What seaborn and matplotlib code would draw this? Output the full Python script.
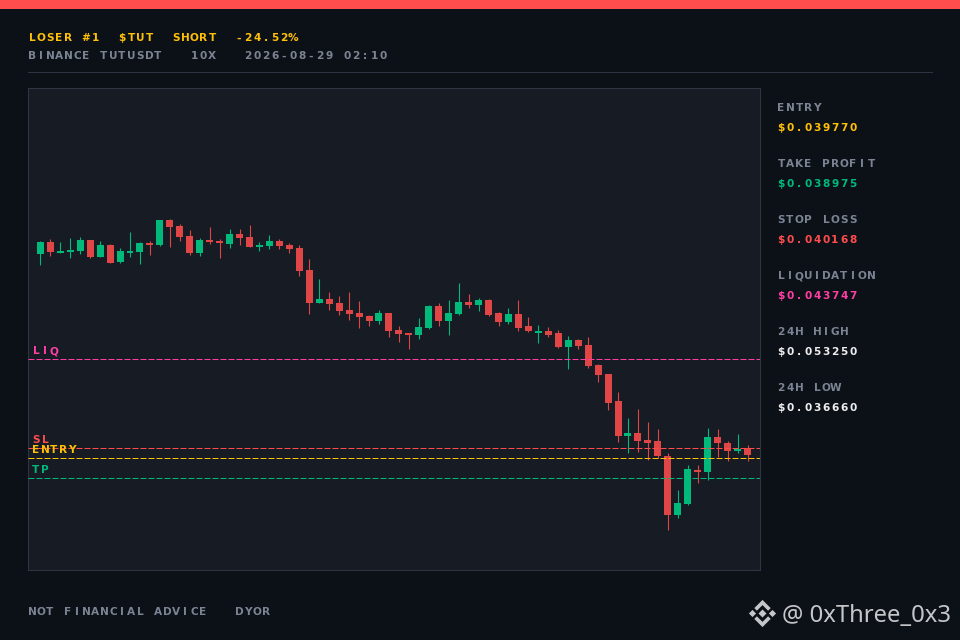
import numpy as np
import pandas as pd
import seaborn as sns
import matplotlib
matplotlib.use("Agg")
import matplotlib.pyplot as plt
from matplotlib.patches import Polygon, Rectangle
from matplotlib.text import Text
from matplotlib.transforms import Bbox

# candles, price
opens = [0.047979, 0.048460, 0.048019, 0.048059, 0.048099, 0.048540, 0.047858, 0.048339, 0.047658, 0.048019, 0.048059, 0.048420,
         0.048339, 0.049342, 0.049101, 0.048700, 0.048019, 0.048540, 0.048500, 0.048380, 0.048781, 0.048660, 0.048259, 0.048299,
         0.048500, 0.048339, 0.048219, 0.047337, 0.046014, 0.046174, 0.046014, 0.045733, 0.045613, 0.045492, 0.045292, 0.045613,
         0.044931, 0.044811, 0.044730, 0.045011, 0.045893, 0.045292, 0.045573, 0.046054, 0.045933, 0.046134, 0.045613, 0.045252,
         0.045573, 0.045091, 0.044811, 0.044891, 0.044811, 0.044249, 0.044530, 0.044329, 0.043527, 0.043167, 0.042084, 0.040680,
         0.040801, 0.040520, 0.040480, 0.039878, 0.037512, 0.037954, 0.039317, 0.039237, 0.040640, 0.040400, 0.040079, 0.040199]
closes = [0.048460, 0.048059, 0.048099, 0.048139, 0.048540, 0.047858, 0.048339, 0.047618, 0.048099, 0.048099, 0.048420, 0.048339,
          0.049342, 0.049061, 0.048660, 0.048019, 0.048540, 0.048460, 0.048420, 0.048781, 0.048620, 0.048259, 0.048339, 0.048500,
          0.048299, 0.048179, 0.047297, 0.046014, 0.046174, 0.045974, 0.045693, 0.045573, 0.045452, 0.045292, 0.045613, 0.044891,
          0.044771, 0.044730, 0.045051, 0.045893, 0.045292, 0.045613, 0.046054, 0.045933, 0.046134, 0.045532, 0.045252, 0.045573,
          0.045011, 0.044891, 0.044891, 0.044730, 0.044249, 0.044530, 0.044289, 0.043487, 0.043126, 0.042004, 0.040680, 0.040801,
          0.040480, 0.040400, 0.039878, 0.037512, 0.037994, 0.039357, 0.039237, 0.040640, 0.040400, 0.040079, 0.040159, 0.039918]
highs = [0.048500, 0.048580, 0.048460, 0.048620, 0.048660, 0.048540, 0.048500, 0.048380, 0.048219, 0.048861, 0.048460, 0.048500,
         0.049342, 0.049382, 0.049182, 0.048941, 0.048620, 0.049061, 0.048580, 0.048981, 0.048981, 0.049141, 0.048460, 0.048740,
         0.048580, 0.048420, 0.048339, 0.047778, 0.046976, 0.046455, 0.046294, 0.046455, 0.046094, 0.045532, 0.045733, 0.045613,
         0.045091, 0.044811, 0.045412, 0.045933, 0.046014, 0.046134, 0.046816, 0.046375, 0.046214, 0.046174, 0.045653, 0.045813,
         0.046134, 0.045452, 0.045131, 0.045051, 0.044931, 0.044690, 0.044570, 0.044650, 0.043568, 0.043167, 0.042445, 0.041402,
         0.041763, 0.041242, 0.040961, 0.039999, 0.038515, 0.039517, 0.039517, 0.041001, 0.040961, 0.040480, 0.040761, 0.040320]
lows = [0.047537, 0.047898, 0.048019, 0.047818, 0.047979, 0.047818, 0.047858, 0.047618, 0.047618, 0.047858, 0.047578, 0.047938,
        0.048299, 0.048259, 0.048500, 0.047938, 0.047898, 0.048380, 0.047818, 0.048219, 0.048339, 0.048259, 0.048099, 0.048179,
        0.048179, 0.048019, 0.047096, 0.045573, 0.046014, 0.045733, 0.045532, 0.045332, 0.045011, 0.045091, 0.045172, 0.044650,
        0.044450, 0.044169, 0.044570, 0.044971, 0.045091, 0.044730, 0.045532, 0.045813, 0.045693, 0.045492, 0.045091, 0.045172,
        0.044891, 0.044851, 0.044410, 0.044650, 0.044209, 0.043367, 0.044169, 0.043407, 0.042846, 0.041723, 0.040440, 0.039999,
        0.040039, 0.039718, 0.039798, 0.036911, 0.037392, 0.037913, 0.038796, 0.038916, 0.039838, 0.039678, 0.039999, 0.039678]

# price levels on the chart
level_names = ["LIQ", "SL", "ENTRY", "TP"]
level_prices = [0.043747, 0.040168, 0.039770, 0.038975]

# right hand panel
panel_labels = ["ENTRY", "TAKE PROFIT", "STOP LOSS", "LIQUIDATION", "24H HIGH", "24H LOW"]
panel_values = ["$0.039770", "$0.038975", "$0.040168", "$0.043747", "$0.053250", "$0.036660"]

title_line = "LOSER #1  $TUT  SHORT  -24.52%"
info_line = "BINANCE TUTUSDT   10X   2026-08-29 02:10"
footer_line = "NOT FINANCIAL ADVICE   DYOR"

BG = "#0c1017"
PANEL = "#161b24"
BORDER = "#2e3542"
GREY = "#7c8494"
GOLD = "#ffc107"
GREEN = "#00b97b"
RED = "#e04646"
SL_RED = "#ff4d4d"
PINK = "#ff3fa4"
WHITE = "#eeeeee"
W, H = 960, 640
STEP = 9  # px per character, the source font is tracked


class TrackedText(Text):
    # one string, drawn with a fixed advance per character
    def __init__(self, x, y, text, **kwargs):
        super().__init__(x, y, text, ha="left", va="baseline", parse_math=False, **kwargs)

    def draw(self, renderer):
        full = self.get_text()
        x0 = self.get_position()[0]
        self.set_ha("center")
        for i, ch in enumerate(full):
            if ch != " ":
                self.set_text(ch)
                self.set_x(x0 + (4 + i * STEP) / W)
                super().draw(renderer)
        self.set_ha("left")
        self.set_text(full)
        self.set_x(x0)

    def get_window_extent(self, renderer=None, dpi=None):
        x0, y0 = self.get_transform().transform(self.get_position())
        return Bbox([[x0, y0 - 1], [x0 + STEP * len(self.get_text()), y0 + 8]])


def pixel_text(fig, left, mid, text, color):
    t = TrackedText(left / W, 1 - (mid + 3.8) / H, text, color=color, family="DejaVu Sans",
                    weight="bold", fontsize=7.6, transform=fig.transFigure, zorder=10)
    fig.add_artist(t)


sns.set_theme(style="dark", rc={"axes.facecolor": PANEL, "figure.facecolor": BG})

df = pd.DataFrame({"i": np.arange(len(opens)), "open": opens, "close": closes, "high": highs, "low": lows})
df["bottom"] = df[["open", "close"]].min(axis=1)
df["height"] = (df["close"] - df["open"]).abs()
df["up"] = df["close"] > df["open"]

fig = plt.figure(figsize=(W / 100, H / 100), dpi=100, facecolor=BG)
ax = fig.add_axes([28 / W, 1 - 570 / H, 732 / W, 482 / H])

for up, color in [(True, GREEN), (False, RED)]:
    part = df[df["up"] == up]
    ax.vlines(part["i"], part["low"], part["high"], color=color, linewidth=0.8, zorder=2)
    sns.barplot(data=part, x="i", y="height", bottom=part["bottom"].values, native_scale=True,
                color=color, saturation=1, width=0.7, errorbar=None, linewidth=0, ax=ax, zorder=3)

level_colors = [PINK, SL_RED, GOLD, GREEN]
for name, price, color in zip(level_names, level_prices, level_colors):
    line = ax.axhline(price, color=color, linewidth=0.72, linestyle=(0, (6, 2)), zorder=4)
    line.set_dash_capstyle("butt")

ax.set_xlim(-1.24, 72.255)
ax.set_ylim(0.035294, 0.054622)
ax.set(xticks=[], yticks=[], xlabel="", ylabel="")
ax.grid(False)
for spine in ax.spines.values():
    spine.set_color(BORDER)
    spine.set_linewidth(0.8)

# top bar and separator
fig.add_artist(Rectangle((0, 1 - 9 / H), 1, 9 / H, color="#ff4d4d", lw=0, transform=fig.transFigure))
fig.add_artist(Rectangle((28 / W, 1 - 73 / H), 905 / W, 1 / H, color=BORDER, lw=0, transform=fig.transFigure))

pixel_text(fig, 28, 37.5, title_line, GOLD)
pixel_text(fig, 28, 55.5, info_line, GREY)
pixel_text(fig, 28, 611.5, footer_line, GREY)

# level labels sit just above their lines
for name, mid, color in zip(level_names, [350.5, 439.5, 449.5, 469.5], level_colors):
    pixel_text(fig, 32, mid, name, color)

value_colors = [GOLD, GREEN, SL_RED, PINK, WHITE, WHITE]
for n, (label, value, color) in enumerate(zip(panel_labels, panel_values, value_colors)):
    pixel_text(fig, 777, 107.5 + 56 * n, label, GREY)
    pixel_text(fig, 777, 127.5 + 56 * n, value, color)

# watermark
MARK = "#c4c6c9"
cx, cy = 762.5, 613.5
logo_parts = [
    [(0, -4), (4, 0), (0, 4), (-4, 0)],
    [(-10, -3.6), (-6.4, 0), (-10, 3.6), (-13.6, 0)],
    [(10, -3.6), (13.6, 0), (10, 3.6), (6.4, 0)],
    [(0, -13.6), (8.2, -5.4), (5.6, -2.8), (0, -8.4), (-5.6, -2.8), (-8.2, -5.4)],
    [(0, 13.6), (8.2, 5.4), (5.6, 2.8), (0, 8.4), (-5.6, 2.8), (-8.2, 5.4)],
]
for part in logo_parts:
    pts = [((cx + dx) / W, 1 - (cy + dy) / H) for dx, dy in part]
    fig.add_artist(Polygon(pts, closed=True, color=MARK, lw=0, transform=fig.transFigure))
fig.text(782 / W, 1 - 622 / H, "@ 0xThree_0x3", color=MARK, family="Noto Sans", fontsize=17.2,
         ha="left", va="baseline")

fig.savefig("out.png", dpi=100, facecolor=BG)
